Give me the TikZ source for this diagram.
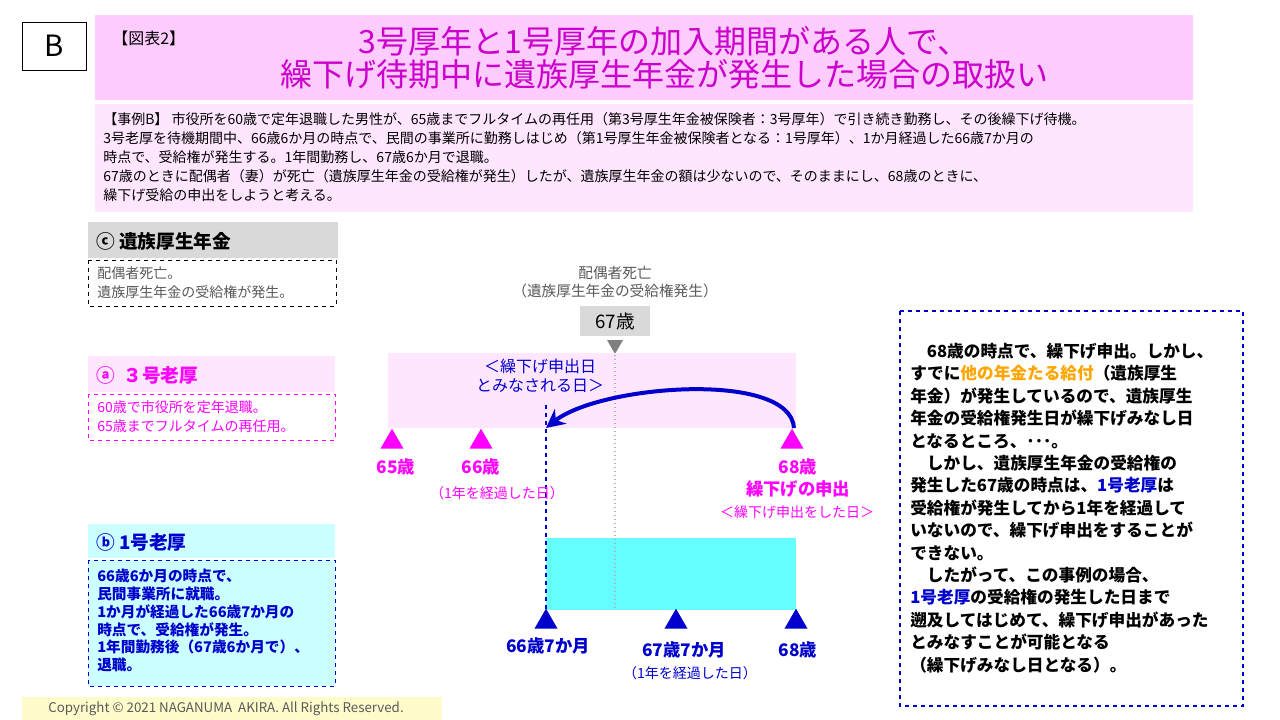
\documentclass[tikz,border=0pt]{standalone}
\usepackage{fontspec}
\setmainfont{Noto Sans CJK JP}
\usetikzlibrary{arrows.meta,shapes.geometric}
\definecolor{mag}{HTML}{FF00FF}
\definecolor{tmag}{HTML}{CC00CC}
\definecolor{lpink}{HTML}{FFE6FF}
\definecolor{tpink}{HTML}{FFCCFF}
\definecolor{dblue}{HTML}{0000CC}
\definecolor{lcyan}{HTML}{CCFFFF}
\definecolor{cyanb}{HTML}{66FFFF}
\definecolor{gtxt}{HTML}{595959}
\definecolor{orng}{HTML}{FFA500}
\tikzset{
 fs/.style={font=\fontsize{#1}{#1}\selectfont},
 fsl/.style 2 args={font=\fontsize{#1}{#2}\selectfont},
 fsb/.style 2 args={font=\bfseries\fontsize{#1}{#2}\selectfont},
 tl/.style={anchor=west,inner sep=0pt},
 upm/.style={fill=mag,draw=none,regular polygon,regular polygon sides=3,minimum size=20pt,inner sep=0pt},
}
\begin{document}
\begin{tikzpicture}[x=0.75pt,y=-0.75pt]
\useasboundingbox (0,0) rectangle (1280,720);
\fill[white] (0,0) rectangle (1280,720);
\node[draw=black,minimum width=48pt,minimum height=36pt,fs=22] (B) at (54,46) {B};
\fill[tpink] (95,15) rectangle (1193,100);
\node[tl,fs=12] (zh) at (112,38) {【図表2】};
\node[fsl={24}{25},text=tmag,align=center] (title) at (664,58) {3号厚年と1号厚年の加入期間がある人で、\\繰下げ待期中に遺族厚生年金が発生した場合の取扱い};
\fill[lpink] (95,104) rectangle (1193,212);
\node[anchor=north west,inner sep=0pt,fsl={10.5}{14.3},align=left] (desc) at (103,112) {【事例B】 市役所を60歳で定年退職した男性が、65歳までフルタイムの再任用（第3号厚生年金被保険者：3号厚年）で引き続き勤務し、その後繰下げ待機。\\3号老厚を待機期間中、66歳6か月の時点で、民間の事業所に勤務しはじめ（第1号厚生年金被保険者となる：1号厚年）、1か月経過した66歳7か月の\\時点で、受給権が発生する。1年間勤務し、67歳6か月で退職。\\67歳のときに配偶者（妻）が死亡（遺族厚生年金の受給権が発生）したが、遺族厚生年金の額は少ないので、そのままにし、68歳のときに、\\繰下げ受給の申出をしようと考える。};
\fill[gray!30] (88,222) rectangle (338,258);
\node[tl,fsb={14}{14}] (c) at (96,241) {ⓒ 遺族厚生年金};
\draw[dashed,black] (88,260) rectangle (336,306);
\node[tl,fsl={10.5}{14},text=gtxt,align=left] (cd) at (97,283) {配偶者死亡。\\遺族厚生年金の受給権が発生。};
\fill[lpink] (88,356) rectangle (335,392);
\node[tl,text=mag,fsb={14}{14}] (a) at (96,375) {ⓐ\ \ ３号老厚};
\draw[dashed,mag] (88,394) rectangle (335,440);
\node[tl,fsl={10.5}{14},text=mag,align=left] (ad) at (97,417) {60歳で市役所を定年退職。\\65歳までフルタイムの再任用。};
\fill[lcyan] (88,524) rectangle (335,558);
\node[tl,text=dblue,fsb={14}{14}] (b) at (96,542) {ⓑ 1号老厚};
\draw[dashed,dblue,fill=lcyan] (88,560) rectangle (335,686);
\node[anchor=north west,inner sep=0pt,fsb={11}{13.3},text=dblue,align=left] (bd) at (97,569) {66歳6か月の時点で、\\民間事業所に就職。\\1か月が経過した66歳7か月の\\時点で、受給権が発生。\\1年間勤務後（67歳6か月で）、\\退職。};
\node[fsl={11}{14},text=gtxt,align=center] (death) at (615,282) {配偶者死亡\\（遺族厚生年金の受給権発生）};
\node[fill=gray!30,minimum width=52pt,minimum height=22pt,fs=14] (s67) at (615,321) {67歳};
\fill[gray] (607,340) -- (623,340) -- (615,354) -- cycle;
\fill[lpink] (388,353) rectangle (796,428);
\fill[cyanb] (546,538) rectangle (796,610);
\draw[gray!60,dotted,line width=1pt] (615,355) -- (615,610);
\draw[dblue,dashed,line width=1.2pt] (546,405) -- (546,612);
\node[fsl={12}{14},text=dblue,align=center] (mina) at (540,376) {＜繰下げ申出日\\とみなされる日＞};
\coordinate (arS) at (794,428);
\coordinate (arE) at (546,428);
\draw[dblue,line width=3pt,-{Stealth[length=14pt,width=14pt]}] (arS) .. controls (790,370) and (600,385) .. (arE);
\node[upm] (t65) at (392,442) {};
\node[upm] (t66) at (481,442) {};
\node[upm] (t68) at (792,442) {};
\node[fsb={13}{13},text=mag] (l65) at (396,467) {65歳};
\node[fsb={13}{13},text=mag] (l66) at (481,467) {66歳};
\node[fsl={10.5}{12},text=mag] (l66b) at (497,493) {（1年を経過した日）};
\node[fsb={13}{17},text=mag,align=center] (l68) at (798,478) {68歳\\繰下げの申出};
\node[fsl={10.5}{12},text=mag] (l68b) at (797,512) {＜繰下げ申出をした日＞};
\node[upm,fill=dblue] (b1) at (546,622) {};
\node[upm,fill=dblue] (b2) at (676,622) {};
\node[upm,fill=dblue] (b3) at (796,622) {};
\node[fsb={13}{13},text=dblue] (lb1) at (548,646) {66歳7か月};
\node[fsb={13}{13},text=dblue] (lb2) at (684,650) {67歳7か月};
\node[fsl={10.5}{12},text=dblue] (lb2b) at (690,673) {（1年を経過した日）};
\node[fsb={13}{13},text=dblue] (lb3) at (798,650) {68歳};
\draw[dblue,dashed,line width=1.5pt] (900,311) rectangle (1243,706);
\node[anchor=north west,inner sep=0pt,fsb={12.5}{16.8},align=left] (rt) at (910,343) {
\quad 68歳の時点で、繰下げ申出。しかし、\\
すでに\textcolor{orng}{他の年金たる給付}（遺族厚生\\
年金）が発生しているので、遺族厚生\\
年金の受給権発生日が繰下げみなし日\\
となるところ、･･･。\\
\quad しかし、遺族厚生年金の受給権の\\
発生した67歳の時点は、\textcolor{dblue}{1号老厚}は\\
受給権が発生してから1年を経過して\\
いないので、繰下げ申出をすることが\\
できない。\\
\quad したがって、この事例の場合、\\
\textcolor{dblue}{1号老厚}の受給権の発生した日まで\\
遡及してはじめて、繰下げ申出があった\\
とみなすことが可能となる\\
（繰下げみなし日となる）。};
\fill[yellow!20] (22,697) rectangle (442,720);
\node[fs=10,text=gtxt] (copy) at (226,709) {Copyright © 2021 NAGANUMA\ \ AKIRA. All Rights Reserved.};
\end{tikzpicture}
\end{document}
